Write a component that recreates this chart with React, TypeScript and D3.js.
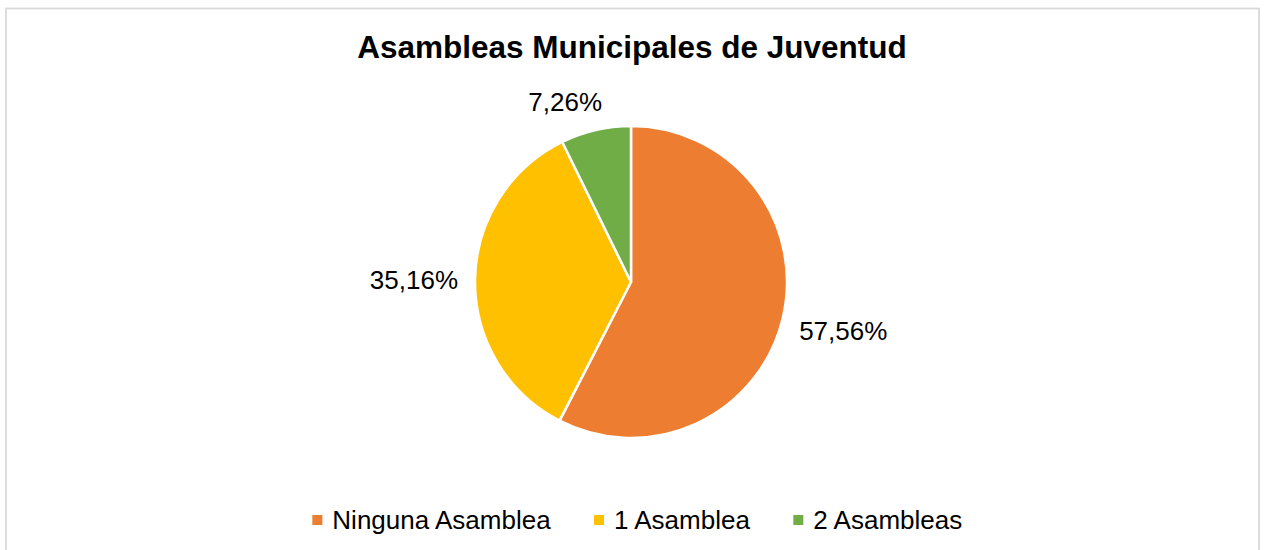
import React from "react";
import * as d3 from "d3";

const categories = ["Ninguna Asamblea", "1 Asamblea", "2 Asambleas"];
const values = [57.56, 35.16, 7.26];
const labels = ["57,56%", "35,16%", "7,26%"];
const colors = ["#ED7D31", "#FFC000", "#70AD47"];
const title = "Asambleas Municipales de Juventud";

const W = 1264;
const H = 550;
const FONT = "'Liberation Sans', Arial, sans-serif";

function textWidth(s: string, size: number, bold = false): number {
  if (typeof document === "undefined") return s.length * size * 0.55;
  const c = document.createElement("canvas").getContext("2d")!;
  c.font = `${bold ? "bold " : ""}${size}px ${FONT}`;
  return c.measureText(s).width;
}

export default function App() {
  const cx = 631;
  const cy = 282;
  const r = 156;
  const pie = d3.pie<number>().sort(null).value((d) => d)(values);
  const arc = d3.arc<d3.PieArcDatum<number>>().innerRadius(0).outerRadius(r);

  const labelSize = 26;
  const labelR = r + 17;
  const clamp = (v: number) => Math.max(-1, Math.min(1, v));

  const legendSize = 26;
  const sq = 10;
  const sqGap = 10;
  const itemGap = 42;
  const widths = categories.map((c) => textWidth(c, legendSize));
  const total =
    widths.reduce((a, b) => a + b, 0) + categories.length * (sq + sqGap) + itemGap * (categories.length - 1);
  let lx = 638 - total / 2;
  const legendItems = categories.map((c, i) => {
    const x = lx;
    lx += sq + sqGap + widths[i] + itemGap;
    return { c, x, color: colors[i] };
  });
  const legendY = 520;

  return (
    <svg
      width={W}
      height={H}
      style={{ position: "absolute", left: 0, top: 0, background: "#fff" }}
      fontFamily={FONT}
    >
      <rect x={6} y={8.5} width={1253} height={600} fill="#fff" stroke="#d9d9d9" strokeWidth={1.8} />
      <text x={632} y={58} textAnchor="middle" fontSize={31.5} fontWeight="bold" fill="#000">
        {title}
      </text>
      <g transform={`translate(${cx},${cy})`}>
        {pie.map((p, i) => (
          <path key={i} d={arc(p) || ""} fill={colors[i]} stroke="#fff" strokeWidth={2.5} strokeLinejoin="round" />
        ))}
        {pie.map((p, i) => {
          const a = (p.startAngle + p.endAngle) / 2;
          const s = Math.sin(a);
          const co = Math.cos(a);
          const hw = textWidth(labels[i], labelSize) / 2;
          const hh = 11;
          const px = s * labelR + hw * clamp(s * 3.2);
          const py = -co * labelR - hh * clamp(co * 3.2);
          return (
            <text key={i} x={px} y={py + 9} textAnchor="middle" fontSize={labelSize} fill="#000">
              {labels[i]}
            </text>
          );
        })}
      </g>
      {legendItems.map((it, i) => (
        <g key={i}>
          <rect x={it.x} y={legendY - sq / 2} width={sq} height={sq} fill={it.color} />
          <text x={it.x + sq + sqGap} y={legendY + 9} fontSize={legendSize} fill="#000">
            {it.c}
          </text>
        </g>
      ))}
    </svg>
  );
}
